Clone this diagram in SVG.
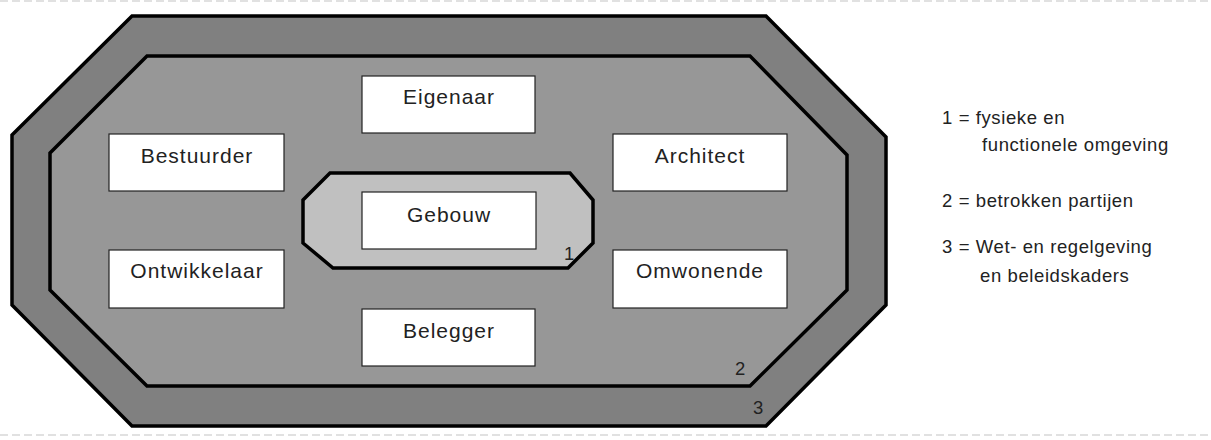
<svg xmlns="http://www.w3.org/2000/svg" width="1211" height="440" viewBox="0 0 1211 440">
<style>
.t{font-family:"Liberation Sans",Arial,sans-serif;font-size:21px;letter-spacing:1px;fill:#222}
.l{font-family:"Liberation Sans",Arial,sans-serif;font-size:18.5px;letter-spacing:0.6px;fill:#222}
.c{text-anchor:middle}
.box{fill:#fff;stroke:#222;stroke-width:1.2}
.ring{stroke:#000;stroke-width:3.5;stroke-linejoin:miter}
.dash{stroke:#d8d8d8;stroke-width:1.5;stroke-dasharray:8 4}
</style>
<rect width="1211" height="440" fill="#fff"/>
<line class="dash" x1="0" y1="1" x2="1211" y2="1"/>
<line class="dash" x1="0" y1="435" x2="1211" y2="435"/>
<g id="layer3">
<polygon class="ring" fill="#808080" points="132,16 766,16 886,137 886,305 766,426 132,426 12,305 12,135"/>
<text class="l" x="753" y="414">3</text>
</g>
<g id="layer2">
<polygon class="ring" fill="#979797" points="147,56 750,56 847,155 847,290 750,386 147,386 50,290 50,153"/>
<text class="l" x="735" y="375">2</text>
</g>
<g id="layer1">
<polygon class="ring" fill="#c0c0c0" points="330,173 570,173 593,200 593,243 568,268 333,268 303,243 303,200"/>
<text class="l" x="564" y="260">1</text>
</g>
<g id="gebouw"><rect class="box" x="362" y="192" width="174" height="57"/><text class="t c" x="449" y="222">Gebouw</text></g>
<g id="eigenaar"><rect class="box" x="362" y="76" width="173" height="57"/><text class="t c" x="449" y="104">Eigenaar</text></g>
<g id="belegger"><rect class="box" x="362" y="309" width="173" height="57"/><text class="t c" x="449" y="338">Belegger</text></g>
<g id="bestuurder"><rect class="box" x="109" y="134" width="175" height="57"/><text class="t c" x="197" y="163">Bestuurder</text></g>
<g id="ontwikkelaar"><rect class="box" x="109" y="250" width="175" height="58"/><text class="t c" x="197" y="278" letter-spacing="1.6">Ontwikkelaar</text></g>
<g id="architect"><rect class="box" x="613" y="134" width="174" height="57"/><text class="t c" x="700" y="163">Architect</text></g>
<g id="omwonende"><rect class="box" x="613" y="250" width="174" height="58"/><text class="t c" x="700" y="278">Omwonende</text></g>
<g id="legend">
<text class="l" x="942" y="124">1 = fysieke en</text>
<text class="l" x="982" y="151">functionele omgeving</text>
<text class="l" x="942" y="207">2 = betrokken partijen</text>
<text class="l" x="942" y="253">3 = Wet- en regelgeving</text>
<text class="l" x="980" y="282">en beleidskaders</text>
</g>
</svg>
